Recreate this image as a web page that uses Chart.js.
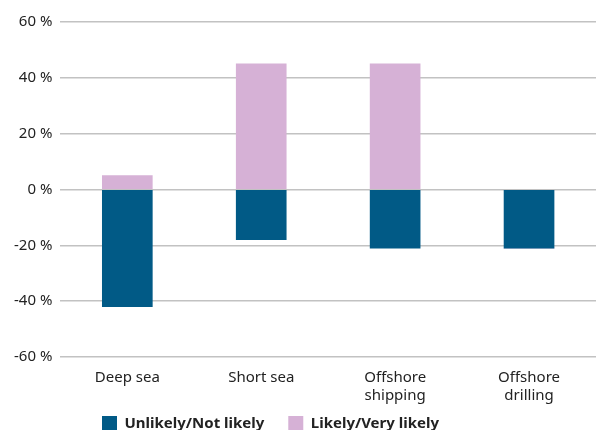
<!DOCTYPE html>
<html>
<head>
<meta charset="utf-8">
<script src="https://cdn.jsdelivr.net/npm/chart.js@4.4.1/dist/chart.umd.min.js"></script>
<style>
  html, body { margin: 0; padding: 0; background: #ffffff; }
  #wrap { width: 596px; height: 430px; }
</style>
</head>
<body>
<div id="wrap"><canvas id="c" width="596" height="430"></canvas></div>
<script>
// Survey answers per market segment, in percent
const categories = [["Deep sea"], ["Short sea"], ["Offshore", "shipping"], ["Offshore", "drilling"]];
const unlikely = [-42, -18, -21, -21];
const likely = [5, 45, 45, 0];
const yTicks = [-60, -40, -20, 0, 20, 40, 60];

const FONT = "'Noto Sans', 'DejaVu Sans', sans-serif";

// Keep the legend compact: fixed height, placed under the plot, shifted right
const legendPlace = {
  id: 'legendPlace',
  afterInit(chart) {
    const lg = chart.legend;
    if (!lg) return;
    const origFit = lg.fit.bind(lg);
    lg.fit = function () {
      origFit();
      this.height = 21;
    };
  },
  beforeDraw(chart) {
    const lg = chart.legend;
    if (!lg) return;
    lg.left += 72;
    lg.right += 72;
    lg.top = 392;
  }
};

new Chart(document.getElementById('c'), {
  type: 'bar',
  data: {
    labels: categories,
    datasets: [
      { label: 'Unlikely/Not likely', data: unlikely, backgroundColor: '#015a86' },
      { label: 'Likely/Very likely', data: likely, backgroundColor: '#d6b1d6' }
    ]
  },
  options: {
    responsive: false,
    animation: false,
    layout: { padding: { top: 22, right: 0, left: 6, bottom: 0 } },
    datasets: { bar: { barThickness: 50 } },
    scales: {
      x: {
        stacked: true,
        grid: { display: false },
        border: { display: false },
        ticks: { color: '#222', font: { family: FONT, size: 15, lineHeight: 1.2 }, padding: 4, maxRotation: 0 }
      },
      y: {
        stacked: true,
        min: -60, max: 60,
        afterBuildTicks: (axis) => { axis.ticks = yTicks.map(v => ({ value: v })); },
        grid: { color: '#c2c2c2', lineWidth: 1.5, drawTicks: false },
        border: { display: false },
        ticks: {
          color: '#222',
          font: { family: FONT, size: 15 },
          padding: 8,
          callback: (v) => v + ' %'
        }
      }
    },
    plugins: {
      legend: {
        position: 'bottom',
        align: 'start',
        labels: {
          boxWidth: 15, boxHeight: 15,
          color: '#222',
          font: { family: FONT, size: 15, weight: 'bold' },
          padding: 24
        }
      },
      tooltip: { enabled: false }
    }
  },
  plugins: [legendPlace]
});
</script>
</body>
</html>
